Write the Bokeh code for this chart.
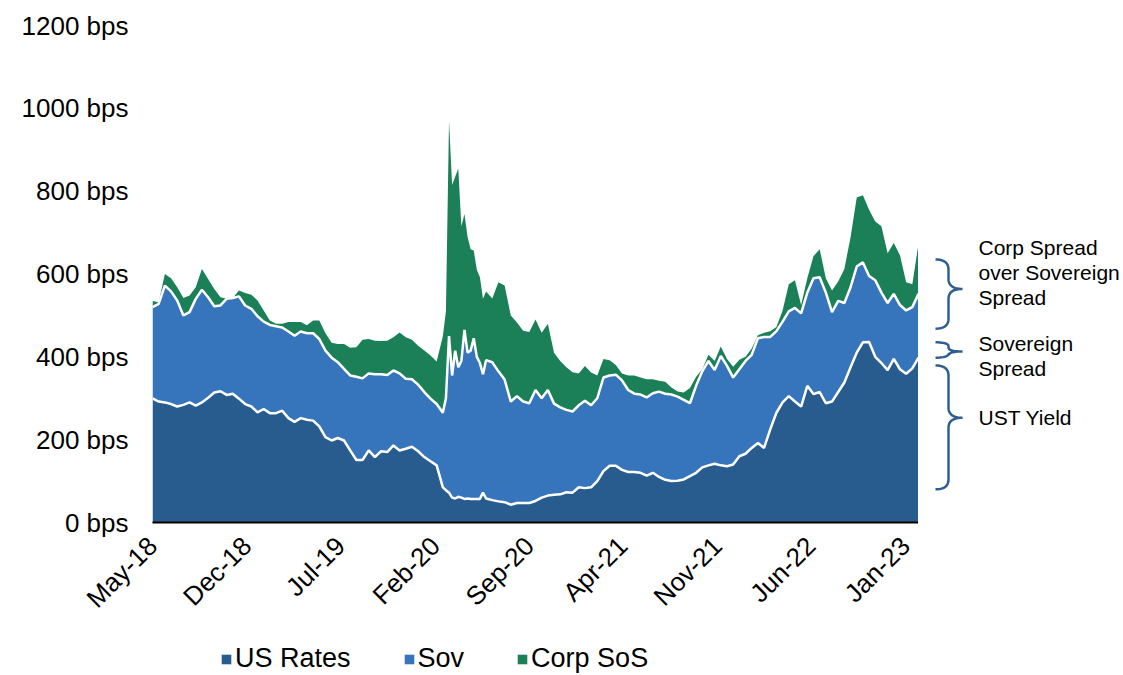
import numpy as np
import pandas as pd
from datetime import datetime, timedelta
from bokeh.plotting import figure
from bokeh.layouts import row, column
from bokeh.models import (ColumnDataSource, Range1d, FixedTicker, PrintfTickFormatter,
                          DatetimeTickFormatter, Legend, LegendItem)
from bokeh.embed import file_html
from bokeh.resources import INLINE
from bokeh.core.properties import value

# ---------------- data (bps) ----------------
start_date = datetime(2018, 5, 1)
weeks = [0, 2, 4, 6, 8, 10, 12, 14, 16, 18, 20, 22, 24, 26, 28, 30, 32, 34, 36, 38,
         40, 42, 44, 46, 48, 50, 52, 54, 56, 58, 60, 62, 64, 66, 68, 70, 72, 74, 76, 78,
         80, 82, 84, 86, 88, 90, 92, 94, 95, 96, 97, 98, 99, 100, 101, 102, 103, 104,
         105, 106, 107, 108, 110, 112, 114, 116, 118, 120, 122, 124, 126, 128, 130, 132,
         134, 136, 138, 140, 142, 144, 146, 148, 150, 152, 154, 156, 158, 160, 162, 164,
         166, 168, 170, 172, 174, 176, 178, 180, 182, 184, 186, 188, 190, 192, 194, 196,
         198, 200, 202, 204, 206, 208, 210, 212, 214, 216, 218, 220, 222, 224, 226, 228,
         230, 232, 234, 236, 238, 240, 242, 244, 246, 248]

us_rates = [300, 292, 290, 286, 280, 284, 290, 282, 290, 301, 314, 317, 308, 311, 299, 286,
            280, 266, 274, 264, 264, 270, 252, 243, 252, 248, 246, 232, 206, 198, 204, 198,
            174, 151, 151, 174, 158, 172, 170, 186, 174, 178, 183, 172, 158, 148, 138, 85,
            78, 72, 60, 58, 62, 60, 57, 58, 57, 57, 57, 57, 72, 58, 54, 51, 49, 43, 47, 47,
            47, 52, 60, 65, 67, 68, 73, 72, 85, 83, 85, 100, 124, 137, 137, 127, 122, 122,
            120, 113, 120, 110, 103, 100, 101, 104, 112, 120, 133, 138, 142, 138, 136, 140,
            160, 166, 180, 192, 180, 225, 265, 290, 305, 292, 280, 330, 310, 315, 288, 292,
            315, 338, 375, 410, 435, 436, 400, 385, 368, 395, 370, 359, 372, 398]

sov = [220, 236, 282, 272, 256, 216, 218, 258, 272, 243, 208, 207, 232, 231, 247, 238,
       236, 232, 211, 213, 210, 201, 209, 208, 209, 209, 211, 211, 209, 200, 183, 173,
       181, 201, 197, 186, 200, 186, 186, 181, 186, 169, 163, 161, 157, 151, 148, 180,
       222, 378, 295, 357, 313, 330, 408, 352, 358, 388, 343, 328, 286, 334, 333, 314,
       296, 249, 258, 245, 241, 268, 240, 255, 220, 210, 199, 196, 198, 211, 198, 200,
       226, 218, 220, 216, 198, 189, 189, 189, 192, 206, 208, 209, 203, 192, 176, 210,
       232, 252, 226, 264, 242, 210, 210, 224, 225, 253, 268, 223, 197, 195, 205, 226,
       225, 225, 280, 277, 267, 216, 220, 192, 193, 208, 193, 159, 185, 170, 162, 157,
       155, 153, 148, 154]

corp_sos = [15, 4, 28, 32, 32, 42, 40, 28, 50, 44, 42, 20, 0, 0, 14, 30, 34, 38, 27, 11,
            6, 9, 23, 33, 23, 19, 31, 45, 42, 36, 44, 60, 67, 71, 93, 83, 81, 80, 83, 80,
            99, 100, 95, 94, 100, 104, 103, 185, 210, 520, 460, 420, 480, 325, 280, 280,
            245, 212, 210, 207, 182, 166, 154, 215, 227, 208, 178, 171, 172, 170, 158, 160,
            123, 112, 103, 95, 77, 84, 79, 55, 45, 37, 23, 17, 35, 44, 41, 44, 34, 26, 29,
            17, 12, 18, 37, 22, 5, 15, 22, 23, 17, 26, 23, 10, 15, 7, 10, 14, 10, 27, 65,
            67, 20, 35, 53, 68, 35, 52, 47, 82, 121, 167, 162, 160, 142, 160, 120, 123,
            120, 68, 55, 121]

series_names = ["US Rates", "Sov", "Corp SoS"]
tick_dates = ["2018-05-01", "2018-12-01", "2019-07-01", "2020-02-01", "2020-09-01",
              "2021-04-01", "2021-11-01", "2022-06-01", "2023-01-01"]
y_ticks = [0, 200, 400, 600, 800, 1000, 1200]

note_texts = ["Corp Spread", "over Sovereign", "Spread", "Sovereign", "Spread", "UST Yield"]
note_levels = [665, 604, 544, 431, 371, 254]

# ---------------- styling ----------------
C_US = "#285C8E"
C_SOV = "#3675BB"
C_CORP = "#1B8058"
C_BRACE = "#2F5F92"
COLORS = [C_US, C_SOV, C_CORP]
FONT = "Liberation Sans"

dates = [start_date + timedelta(weeks=w) for w in weeks]
us_arr = np.array(us_rates, dtype=float)
sov_arr = np.array(sov, dtype=float)
corp_arr = np.array(corp_sos, dtype=float)

src = ColumnDataSource(dict(
    date=dates, us=us_arr, sov=sov_arr, corp=corp_arr,
    lvl1=us_arr, lvl2=us_arr + sov_arr,
))

H = 630
TOP = 25
BOTTOM = H - TOP - 497

p = figure(width=918, height=H, x_axis_type="datetime",
           x_range=Range1d(start_date, dates[-1]), y_range=Range1d(0, 1200),
           output_backend="svg", toolbar_location=None,
           min_border_left=152, min_border_right=0, min_border_top=TOP,
           min_border_bottom=BOTTOM)
p.outline_line_color = None
p.xgrid.visible = False
p.ygrid.visible = False

p.varea_stack(["us", "sov", "corp"], x="date", color=COLORS, source=src)
p.line("date", "lvl2", source=src, line_color="white", line_width=2.5)
p.line("date", "lvl1", source=src, line_color="white", line_width=2.5)

tick_ms = [pd.Timestamp(d).timestamp() * 1000.0 for d in tick_dates]
p.xaxis.ticker = FixedTicker(ticks=tick_ms)
p.xaxis.formatter = DatetimeTickFormatter(days="%b-%y", months="%b-%y", years="%b-%y")
p.xaxis.major_label_orientation = np.pi / 4
p.xaxis.major_tick_line_color = None
p.xaxis.minor_tick_line_color = None
p.xaxis.axis_line_color = "black"
p.xaxis.axis_line_width = 2
p.xaxis.major_label_standoff = 13
p.xaxis.major_label_text_font = FONT
p.xaxis.major_label_text_font_size = "26px"
p.xaxis.major_label_text_color = "black"

p.yaxis.ticker = FixedTicker(ticks=y_ticks)
p.yaxis.formatter = PrintfTickFormatter(format="%d bps")
p.yaxis.axis_line_color = None
p.yaxis.major_tick_line_color = None
p.yaxis.minor_tick_line_color = None
p.yaxis.major_label_standoff = 18
p.yaxis.major_label_text_font = FONT
p.yaxis.major_label_text_font_size = "26px"
p.yaxis.major_label_text_color = "black"

# ---------------- annotation panel ----------------
pa = figure(width=203, height=H, x_range=Range1d(0, 203), y_range=Range1d(0, 1200),
            output_backend="svg", toolbar_location=None,
            x_axis_location=None, y_axis_location=None,
            min_border_left=0, min_border_right=0, min_border_top=TOP,
            min_border_bottom=BOTTOM)
pa.outline_line_color = None
pa.xgrid.visible = False
pa.ygrid.visible = False

PX = 1200.0 / 497.0  # bps per screen pixel


def quad(p0, c, p1, n=12):
    t = np.linspace(0, 1, n)
    xs = (1 - t) ** 2 * p0[0] + 2 * (1 - t) * t * c[0] + t ** 2 * p1[0]
    ys = (1 - t) ** 2 * p0[1] + 2 * (1 - t) * t * c[1] + t ** 2 * p1[1]
    return list(xs), list(ys)


def brace(top, bot, mid, r_px, x0=17, xv=30, x1=44):
    r = r_px * PX
    xs, ys = [], []
    for seg in [quad((x0, top), (xv, top), (xv, top - r)),
                quad((xv, mid + r), (xv, mid), (x1, mid)),
                quad((x1, mid), (xv, mid), (xv, mid - r)),
                quad((xv, bot + r), (xv, bot), (x0, bot))]:
        xs += seg[0]
        ys += seg[1]
    return xs, ys


for (top, bot, mid, r) in [(635, 468, 564, 10), (435, 398, 413, 4), (379, 80, 253, 10)]:
    bx, by = brace(top, bot, mid, r)
    pa.line(bx, by, line_color=C_BRACE, line_width=2.5)

pa.text(x=[60] * len(note_texts), y=note_levels, text=note_texts,
        text_font=value(FONT), text_font_size="21px", text_color="black",
        text_baseline="middle", text_align="left")

# ---------------- legend strip ----------------
pl = figure(width=918, height=45, x_range=Range1d(0, 1), y_range=Range1d(0, 1),
            output_backend="svg", toolbar_location=None,
            x_axis_location=None, y_axis_location=None,
            min_border_left=0, min_border_right=0, min_border_top=0, min_border_bottom=0)
pl.outline_line_color = None
pl.xgrid.visible = False
pl.ygrid.visible = False
# key swatches: glyphs parked outside the visible range, used only by the legend
key_rends = [pl.quad(left=[5], right=[6], bottom=[5], top=[6], fill_color=c, line_color=None)
             for c in COLORS]
legend = Legend(items=[LegendItem(label=n, renderers=[r]) for n, r in zip(series_names, key_rends)],
                orientation="horizontal", location=(220, 1),
                glyph_width=12, glyph_height=12, label_standoff=3, spacing=52,
                label_text_font=FONT, label_text_font_size="27px",
                label_text_color="black", border_line_color=None,
                background_fill_alpha=0, margin=0, padding=2)
pl.add_layout(legend)

layout = column(row(p, pa), pl)
open("out.html", "w").write(file_html(layout, INLINE))
